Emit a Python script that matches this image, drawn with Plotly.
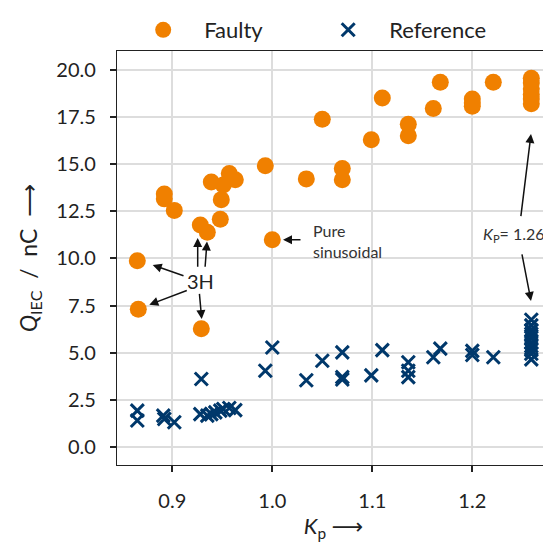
import plotly.graph_objects as go

faulty_kp = [0.865, 0.866, 0.892, 0.892, 0.902, 0.928, 0.929, 0.935, 0.939, 0.948,
             0.949, 0.951, 0.957, 0.963, 0.993, 1.000, 1.034, 1.050, 1.070, 1.070,
             1.099, 1.110, 1.136, 1.136, 1.161, 1.168, 1.200, 1.200, 1.200, 1.221,
             1.259, 1.259, 1.259, 1.259, 1.259, 1.259]
faulty_q = [9.88, 7.31, 13.42, 13.16, 12.55, 11.77, 6.27, 11.39, 14.05, 12.08,
            13.12, 13.90, 14.51, 14.17, 14.91, 10.99, 14.22, 17.38, 14.77, 14.17,
            16.30, 18.51, 17.12, 16.51, 17.95, 19.34, 18.45, 18.25, 18.07, 19.34,
            19.55, 19.30, 19.00, 18.70, 18.45, 18.20]

ref_kp = [0.865, 0.865, 0.891, 0.892, 0.902, 0.929, 0.928, 0.935, 0.939, 0.943,
          0.948, 0.951, 0.957, 0.963, 0.993, 1.000, 1.034, 1.050, 1.070, 1.070,
          1.070, 1.099, 1.110, 1.136, 1.136, 1.136, 1.161, 1.168, 1.200, 1.200,
          1.221, 1.259, 1.259, 1.259, 1.259, 1.259, 1.259, 1.259, 1.259, 1.259,
          1.259]
ref_q = [1.93, 1.41, 1.67, 1.49, 1.32, 3.61, 1.75, 1.67, 1.75, 1.84,
         1.93, 2.02, 2.07, 1.96, 4.05, 5.28, 3.54, 4.58, 5.02, 3.71,
         3.58, 3.80, 5.14, 4.50, 4.05, 3.71, 4.76, 5.22, 5.10, 4.88,
         4.76, 6.75, 6.45, 6.20, 6.00, 5.80, 5.55, 5.35, 5.15, 4.95,
         4.65]

orange = "#F08000"
navy = "#00386B"
font_family = "Lato, 'DejaVu Sans', sans-serif"

fig = go.Figure()
fig.add_trace(go.Scatter(x=faulty_kp, y=faulty_q, mode="markers", name="Faulty",
                         marker=dict(symbol="circle", size=17, color=orange)))
fig.add_trace(go.Scatter(x=ref_kp, y=ref_q, mode="markers", name="Reference",
                         marker=dict(symbol="x-thin", size=13,
                                     line=dict(width=3, color=navy), color=navy)))

arrows = [
    # (head_x, head_y, tail_x, tail_y)
    (1.0107, 10.99, 1.0297, 10.99),
    (0.8804, 9.65, 0.9127, 9.06),
    (0.8770, 7.55, 0.9160, 8.33),
    (0.9254, 11.08, 0.9254, 9.48),
    (0.9347, 10.90, 0.9327, 9.48),
    (0.9294, 6.79, 0.9270, 8.20),
    (1.2587, 16.60, 1.2484, 12.17),
    (1.2587, 7.75, 1.2494, 10.30),
]
annotations = []
for hx, hy, tx, ty in arrows:
    annotations.append(dict(x=hx, y=hy, ax=tx, ay=ty, xref="x", yref="y",
                            axref="x", ayref="y", text="", showarrow=True,
                            arrowhead=2, arrowsize=1.2, arrowwidth=1.5,
                            arrowcolor="#111"))
annotations += [
    dict(x=1.0387, y=10.91, xref="x", yref="y", text="Pure<br>sinusoidal",
         showarrow=False, xanchor="left", align="left",
         font=dict(size=16, color="#333", family=font_family)),
    dict(x=0.9277, y=8.80, xref="x", yref="y", text="3H", showarrow=False,
         font=dict(size=20, color="#222", family=font_family)),
    dict(x=1.2417, y=11.25, xref="x", yref="y",
         text="<i>K</i><sub>P</sub>= 1.26", showarrow=False,
         font=dict(size=16, color="#333", family=font_family)),
]

# page body has an 8px margin: figure is 543x535 so it fits the 551x543 window
fig.update_layout(
    width=543, height=535,
    margin=dict(l=109, r=1, t=36, b=78),
    paper_bgcolor="white", plot_bgcolor="white",
    font=dict(family=font_family, size=20, color="#222"),
    showlegend=True,
    legend=dict(orientation="h", x=0.012, xanchor="left", y=1.0, yanchor="bottom",
                font=dict(size=22), itemwidth=72, entrywidth=98,
                bgcolor="rgba(0,0,0,0)"),
    annotations=annotations,
)
fig.update_xaxes(range=[0.8447, 1.2777], tickvals=[0.9, 1.0, 1.1, 1.2],
                 ticktext=["0.9", "1.0", "1.1", "1.2"],
                 showgrid=True, gridcolor="#dddddd", gridwidth=1.5,
                 showline=True, linecolor="#222", linewidth=1.3, mirror=True,
                 ticks="outside", ticklen=6, tickwidth=1.5, tickcolor="#222",
                 ticklabelstandoff=12, zeroline=False,
                 title=dict(text="<i>K</i><sub>p</sub> ⟶", font=dict(size=22), standoff=3))
fig.update_yaxes(range=[-0.95, 21.0], tickvals=[0, 2.5, 5, 7.5, 10, 12.5, 15, 17.5, 20],
                 ticktext=["0.0", "2.5", "5.0", "7.5", "10.0", "12.5", "15.0", "17.5", "20.0"],
                 showgrid=True, gridcolor="#dddddd", gridwidth=1.5,
                 showline=True, linecolor="#222", linewidth=1.3, mirror=True,
                 ticks="outside", ticklen=6, tickwidth=1.5, tickcolor="#222",
                 ticklabelstandoff=10, zeroline=False,
                 title=dict(text="<i>Q</i><sub>IEC</sub>\u00a0 /\u00a0 nC\u00a0 ⟶",
                            font=dict(size=23), standoff=12))

fig.write_html("out.html")
